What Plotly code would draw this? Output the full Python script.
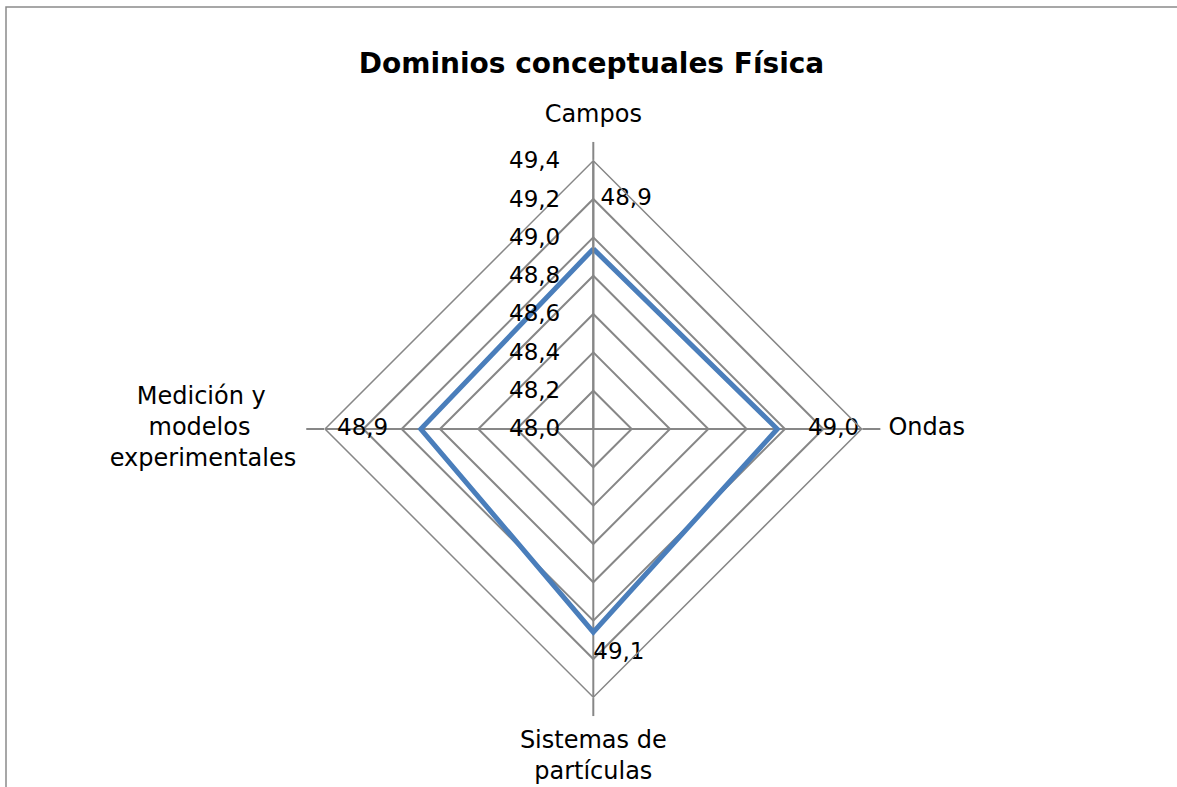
import plotly.graph_objects as go

# ---- data ----
categories = ["Campos", "Ondas", "Sistemas de partículas", "Medición y modelos experimentales"]
NB = "\u00a0"
category_labels = [
    "Campos",
    "Ondas",
    "Sistemas de<br>partículas",
    "Medición y" + NB * 4 + "<br>modelos" + NB * 6 + "<br>experimentales",
]
values = [48.94, 48.96, 49.06, 48.90]
radial_min = 48.0
radial_max = 49.4
radial_step = 0.2
title_text = "Dominios conceptuales Física"

label_text = [f"{v:.1f}".replace(".", ",") for v in values]

FONT = "DejaVu Sans"
GRID = "#878787"
BLUE = "#4a7ebb"

fig = go.Figure()

# series line (closed)
fig.add_trace(go.Scatterpolar(
    r=values + values[:1],
    theta=categories + categories[:1],
    mode="lines",
    line=dict(color=BLUE, width=5),
    showlegend=False,
    hoverinfo="skip",
))

# data labels, offset outward from each point
offsets = [0.2, 0.16, 0.05, 0.17]
fig.add_trace(go.Scatterpolar(
    r=[v + o for v, o in zip(values, offsets)],
    theta=categories,
    mode="text",
    text=[NB + label_text[0]] + label_text[1:],
    textposition=["top right", "middle right", "bottom right", "middle left"],
    textfont=dict(family=FONT, size=23, color="black"),
    showlegend=False,
    hoverinfo="skip",
))

# category labels just outside the outer ring (on an invisible, wider overlay polar)
label_rmax = 49.8
fig.add_trace(go.Scatterpolar(
    r=[radial_max + 0.17, radial_max + 0.14, radial_max + 0.17, radial_max + 0.15],
    theta=categories,
    mode="text",
    text=category_labels,
    textposition=["top center", "middle right", "bottom center", "middle left"],
    textfont=dict(family=FONT, size=24, color="black"),
    subplot="polar2",
    showlegend=False,
    hoverinfo="skip",
))

W, H = 1177, 787
ml, mt = 6, 7
pw, ph = W - ml, H - mt
cx, cy, rad = 593.3, 429.0, 268.3
rad2 = rad * (label_rmax - radial_min) / (radial_max - radial_min)


def dom(r):
    return dict(
        x=[(cx - r - ml) / pw, (cx + r - ml) / pw],
        y=[(H - cy - r) / ph, (H - cy + r) / ph],
    )


fig.update_layout(
    width=W, height=H,
    margin=dict(l=ml, r=0, t=mt, b=0),
    paper_bgcolor="white",
    plot_bgcolor="white",
    separators=",.",
    font=dict(family=FONT, size=22, color="black"),
    title=dict(
        text="<b>" + title_text + "</b>",
        x=0.5, xref="paper", xanchor="center",
        y=1 - 63 / H, yref="container", yanchor="middle",
        font=dict(family=FONT, size=28, color="black"),
    ),
    polar=dict(
        domain=dom(rad),
        bgcolor="white",
        gridshape="linear",
        radialaxis=dict(
            range=[radial_min, radial_max],
            dtick=radial_step,
            tick0=radial_min,
            tickformat=".1f",
            angle=90,
            tickangle=90,
            side="counterclockwise",
            showline=True,
            linecolor=GRID,
            linewidth=2,
            showgrid=True,
            gridcolor=GRID,
            gridwidth=1.5,
            ticks="outside",
            ticklen=24,
            tickcolor="rgba(0,0,0,0)",
            tickfont=dict(family=FONT, size=23, color="black"),
        ),
        angularaxis=dict(
            direction="clockwise",
            rotation=90,
            showline=True,
            linecolor=GRID,
            linewidth=1.5,
            showgrid=True,
            gridcolor=GRID,
            gridwidth=1.5,
            ticks="outside",
            ticklen=18,
            tickcolor=GRID,
            tickwidth=1.5,
            showticklabels=False,
        ),
    ),
    polar2=dict(
        domain=dom(rad2),
        bgcolor="rgba(0,0,0,0)",
        radialaxis=dict(range=[radial_min, label_rmax], visible=False),
        angularaxis=dict(direction="clockwise", rotation=90, visible=False),
    ),
    shapes=[dict(
        type="rect", xref="paper", yref="paper",
        x0=0, x1=1.05, y0=-0.05, y1=1,
        line=dict(color="#8a8a8a", width=1.5),
        fillcolor="rgba(0,0,0,0)",
        layer="above",
    )],
)

fig.write_html(
    "out.html",
    config={"displayModeBar": False},
    post_script="document.body.style.margin='0';",
)
